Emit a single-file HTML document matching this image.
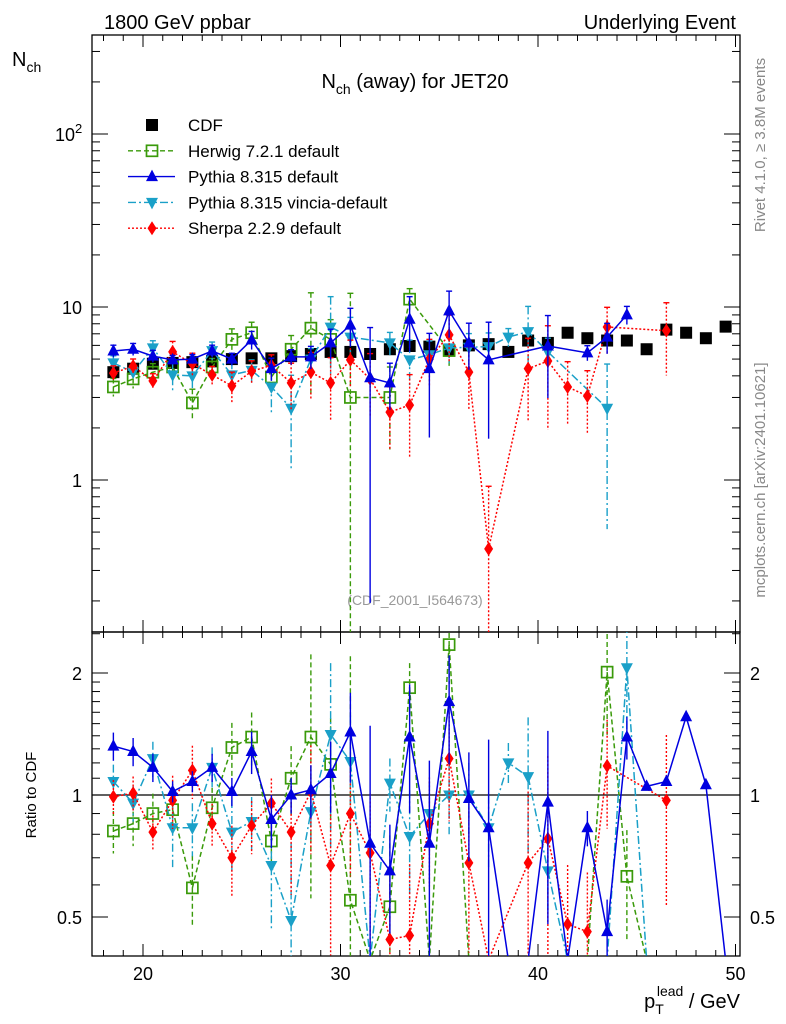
<!DOCTYPE html>
<html><head><meta charset="utf-8">
<style>
html,body{margin:0;padding:0;background:#fff;width:786px;height:1024px;overflow:hidden;}
svg{display:block;font-family:"Liberation Sans",Arial,sans-serif;}
</style></head>
<body>
<svg id="c" width="786" height="1024" viewBox="0 0 786 1024" xmlns="http://www.w3.org/2000/svg">
<defs>
<clipPath id="clipMain"><rect x="92" y="35" width="648" height="597"/></clipPath>
<clipPath id="clipRatio"><rect x="92" y="632" width="648" height="324"/></clipPath>
</defs>
<rect x="0" y="0" width="786" height="1024" fill="#fff"/>
<text x="104" y="29" font-size="20">1800 GeV ppbar</text>
<text x="736" y="29" font-size="20" text-anchor="end">Underlying Event</text>
<text x="415" y="88" font-size="20" text-anchor="middle">N<tspan font-size="14" dy="6">ch</tspan><tspan dy="-6"> (away) for JET20</tspan></text>
<text x="12" y="66" font-size="20">N<tspan font-size="14" dy="6">ch</tspan></text>
<text x="36" y="795" font-size="15" text-anchor="middle" transform="rotate(-90 36 795)">Ratio to CDF</text>
<text x="740" y="1008" font-size="20" text-anchor="end">p<tspan font-size="14" dy="6">T</tspan><tspan font-size="14" dx="-7" dy="-18">lead</tspan><tspan dy="12"> / GeV</tspan></text>
<text x="765" y="145" font-size="15" fill="#888" text-anchor="middle" transform="rotate(-90 765 145)">Rivet 4.1.0, ≥ 3.8M events</text>
<text x="765" y="480" font-size="15" fill="#888" text-anchor="middle" transform="rotate(-90 765 480)">mcplots.cern.ch [arXiv:2401.10621]</text>
<text x="415" y="605" font-size="14" fill="#999" text-anchor="middle">(CDF_2001_I564673)</text>
<g id="axes"></g>
<g id="mainMarks" clip-path="url(#clipMain)"></g>
<g id="ratioMarks" clip-path="url(#clipRatio)"></g>
<g id="legend"></g>
</svg>
<script>
const xBins = [18.5,19.5,20.5,21.5,22.5,23.5,24.5,25.5,26.5,27.5,28.5,29.5,30.5,31.5,32.5,33.5,34.5,35.5,36.5,37.5,38.5,39.5,40.5,41.5,42.5,43.5,44.5,45.5,46.5,47.5,48.5,49.5];
const cdfVals = [4.2,4.4,4.7,4.75,4.8,4.85,5.0,5.05,5.05,5.2,5.35,5.5,5.5,5.35,5.7,5.95,5.9,5.6,6.0,6.1,5.5,6.4,6.2,7.1,6.6,6.4,6.4,5.7,7.4,7.1,6.6,7.7];
const herwigVals = [3.45,3.84,4.2,4.5,2.79,4.5,6.5,7.1,3.94,5.7,7.55,6.5,3.0,null,3.0,11.1,null,5.6,null,null,null,null,null,null,null,null,null,null,null,null,null,null];
const herwigErr = [0.12,0.12,0.12,0.12,0.2,0.12,0.15,0.15,0.15,0.2,0.6,0.3,3.0,null,0.5,0.15,null,0.2,null,null,null,null,null,null,null,0.3,0.3,null,null,null,null,null];
const pythiaVals = [5.57,5.7,5.2,4.95,5.0,5.57,5.0,6.45,4.4,5.15,5.15,6.2,7.86,3.9,3.64,8.5,4.4,9.5,6.2,4.95,null,null,5.95,null,5.43,6.7,9.0,null,null,null,null,null];
const pythiaErr = [0.08,0.08,0.08,0.06,0.06,0.08,0.08,0.12,0.15,0.1,0.15,0.2,0.25,0.95,0.3,0.35,0.6,0.3,0.3,0.65,null,null,0.5,null,0.1,0.2,0.12,null,null,null,null,null];
const vinciaVals = [4.75,4.2,5.8,4.05,4.0,5.6,4.05,4.3,3.45,2.6,5.0,7.65,6.7,null,6.2,4.95,5.3,5.8,5.85,5.9,6.7,7.2,5.5,null,null,2.6,null,null,null,null,null,null];
const vinciaErr = [0.1,0.1,0.1,0.2,0.15,0.12,0.2,0.15,0.3,0.55,0.15,0.5,0.3,null,0.15,0.3,0.2,0.2,0.2,0.2,0.12,0.4,0.2,null,null,0.8,0.3,null,null,null,null,null];
const sherpaVals = [4.15,4.55,3.74,5.5,4.7,4.05,3.5,4.25,4.6,3.64,4.2,3.64,4.95,3.84,2.47,2.71,5.0,6.9,4.2,0.4,null,4.4,4.87,3.45,3.06,7.66,null,null,7.3,null,null,null];
const sherpaErr = [0.1,0.1,0.1,0.15,0.15,0.12,0.2,0.15,0.15,0.3,0.3,0.4,0.3,0.4,0.4,0.5,0.3,0.3,0.4,1.3,null,0.5,0.6,0.4,0.4,0.3,null,null,0.45,null,null,null];
const herwigRatio = [0.815,0.85,0.90,0.92,0.59,0.93,1.31,1.39,0.77,1.10,1.39,1.19,0.55,0.2,0.53,1.84,0.2,2.35,0.2,null,null,null,null,null,0.2,2.01,0.63,0.2,null,null,null,null];
const pythiaRatio = [1.32,1.28,1.17,1.02,1.08,1.17,1.02,1.28,0.87,1.0,1.03,1.13,1.43,0.76,0.65,1.39,0.76,1.70,0.98,0.83,0.2,0.2,0.96,0.2,0.83,0.46,1.39,1.05,1.08,1.56,1.06,0.2];
const vinciaRatio = [1.08,0.955,1.23,0.83,0.83,1.17,0.81,0.86,0.67,0.49,0.91,1.41,1.21,0.2,1.07,0.79,0.9,1.0,1.0,0.83,1.2,1.11,0.65,0.2,null,0.3,2.06,0.2,null,null,null,null];
const sherpaRatio = [0.99,1.01,0.81,0.97,1.15,0.85,0.70,0.84,0.955,0.81,1.02,0.67,0.90,0.72,0.44,0.45,0.85,1.23,0.68,0.2,null,0.68,0.78,0.48,0.46,1.18,null,null,0.97,null,null,null];
const xTicks = [20,30,40,50];
const ratioTicks = [0.5,1,2];

const NS = "http://www.w3.org/2000/svg";
function X(v){ return 143 + (v-20)*19.75; }
function Ym(v){ return Math.min(Math.max(480 - Math.log10(v)*173, 28), 640); }
function Yr(v){ return Math.min(Math.max(795 - Math.log2(v)*122, 625), 960); }
function inRatio(v){ return v>=0.4 && v<=2.52; }
function mk(tag, attrs, parent){
  const e = document.createElementNS(NS, tag);
  for (const k in attrs) e.setAttribute(k, attrs[k]);
  parent.appendChild(e);
  return e;
}
const axes = document.getElementById('axes');
const mainG = document.getElementById('mainMarks');
const ratioG = document.getElementById('ratioMarks');
const legG = document.getElementById('legend');

let f1 = mk('rect',{x:92,y:35,width:648,height:597,fill:'none',stroke:'#000','stroke-width':1.3},axes);


let f2 = mk('rect',{x:92,y:632,width:648,height:324,fill:'none',stroke:'#000','stroke-width':1.3},axes);


let one = mk('line',{x1:92,x2:740,y1:Yr(1),y2:Yr(1),stroke:'#000','stroke-width':1.2},axes);



for (let v=18; v<=50; v++){
  const major = (v%10===0);
  const L = major?12:6;
  const x = X(v);
  [[35,1],[632,-1],[632,1],[956,-1]].forEach(([y,d])=>{
    const t = mk('line',{x1:x,x2:x,y1:y,y2:y+d*L,stroke:'#000','stroke-width':1},axes);
    
    
  });
}
xTicks.forEach(v=>{
  const t = mk('text',{x:X(v),y:980,'font-size':18,'text-anchor':'middle'},axes);
  t.textContent = String(v);
  
  
});
for (let d=-1; d<=2; d++){
  for (let m=1; m<=9; m++){
    const v = m*Math.pow(10,d);
    const y = 480 - Math.log10(v)*173;
    if (y<35 || y>632) continue;
    const L = m===1?16:8;
    const a = mk('line',{x1:92,x2:92+L,y1:y,y2:y,stroke:'#000','stroke-width':1},axes);
    
    
    const b = mk('line',{x1:740,x2:740-L,y1:y,y2:y,stroke:'#000','stroke-width':1},axes);
    
    
  }
}
[[1,'1'],[10,'10']].forEach(([v,s])=>{
  const t = mk('text',{x:82,y:Ym(v)+7,'font-size':18,'text-anchor':'end'},axes);
  t.textContent = s;
  
  
});
const t100 = mk('text',{x:55,y:Ym(100)+7,'font-size':18},axes);


t100.textContent = '10';
const sup = mk('tspan',{'font-size':13,dy:-8},t100);
sup.textContent = '2';

[0.4,0.5,0.6,0.7,0.8,0.9,1,1.1,1.2,1.3,1.4,1.5,1.6,1.7,1.8,1.9,2,2.5].forEach(v=>{
  const y = 795 - Math.log2(v)*122;
  if (y<632||y>956) return;
  const L = (v===0.5||v===1||v===2)?16:8;
  const a = mk('line',{x1:92,x2:92+L,y1:y,y2:y,stroke:'#000','stroke-width':1},axes);
  
  
  const b = mk('line',{x1:740,x2:740-L,y1:y,y2:y,stroke:'#000','stroke-width':1},axes);
  
  
});
ratioTicks.forEach(v=>{
  const t = mk('text',{x:82,y:Yr(v)+7,'font-size':18,'text-anchor':'end'},axes);
  t.textContent = String(v);
  
  
  const t2 = mk('text',{x:750,y:Yr(v)+7,'font-size':18},axes);
  t2.textContent = String(v);
  
  
});

function marker(type, cx, cy, color, parent){
  let e;
  if (type==='sq') e = mk('rect',{x:cx-6,y:cy-6,width:12,height:12,fill:'#000'},parent);
  else if (type==='osq') e = mk('rect',{x:cx-5.5,y:cy-5.5,width:11,height:11,fill:'none',stroke:color,'stroke-width':1.7},parent);
  else if (type==='up') e = mk('polygon',{points:`${cx},${cy-7} ${cx-6},${cy+4.5} ${cx+6},${cy+4.5}`,fill:color},parent);
  else if (type==='dn') e = mk('polygon',{points:`${cx},${cy+7} ${cx-6},${cy-4.5} ${cx+6},${cy-4.5}`,fill:color},parent);
  else e = mk('polygon',{points:`${cx},${cy-7} ${cx-4.5},${cy} ${cx},${cy+7} ${cx+4.5},${cy}`,fill:color},parent);
  return e;
}
const series = [
  {name:'herwig',vals:herwigVals,err:herwigErr,ratio:herwigRatio,color:'#3a9a0a',dash:'5,3',m:'osq'},
  {name:'vincia',vals:vinciaVals,err:vinciaErr,ratio:vinciaRatio,color:'#1aa0c8',dash:'8,3,2,3',m:'dn'},
  {name:'sherpa',vals:sherpaVals,err:sherpaErr,ratio:sherpaRatio,color:'#ff0000',dash:'2,2',m:'dia'},
  {name:'pythia',vals:pythiaVals,err:pythiaErr,ratio:pythiaRatio,color:'#0000e0',dash:'',m:'up'}
];
xBins.forEach((xv,i)=>{
  const p = marker('sq', X(xv), Ym(cdfVals[i]), '#000', mainG);
  
  
});
series.forEach(s=>{
  let pts=[];
  xBins.forEach((xv,i)=>{ if (s.vals[i]!=null) pts.push([X(xv),Ym(s.vals[i]),i]); });
  const line = mk('polyline',{points:pts.map(p=>p[0]+','+p[1]).join(' '),fill:'none',stroke:s.color,'stroke-width':1.5,'stroke-dasharray':s.dash},mainG);
  
  
  pts.forEach(p=>{
    const i=p[2], v=s.vals[i], e=s.err[i]||0;
    const lo = Math.max(v*(1-e), 0.05), hi = v*(1+e);
    const eb = mk('line',{x1:p[0],x2:p[0],y1:Ym(hi),y2:Ym(lo),stroke:s.color,'stroke-width':1.4,'stroke-dasharray':s.dash},mainG);
    
    
    const cap = mk('line',{x1:p[0]-3,x2:p[0]+3,y1:Ym(hi),y2:Ym(hi),stroke:s.color,'stroke-width':1.4},mainG);
    
    
    const mm = marker(s.m,p[0],p[1],s.color,mainG);
    
    
  });
  let rp=[];
  xBins.forEach((xv,i)=>{ if (s.ratio[i]!=null) rp.push([X(xv),Yr(s.ratio[i]),i]); });
  const rl = mk('polyline',{points:rp.map(p=>p[0]+','+p[1]).join(' '),fill:'none',stroke:s.color,'stroke-width':1.5,'stroke-dasharray':s.dash},ratioG);
  
  
  rp.forEach(p=>{
    const i=p[2], r=s.ratio[i], e=(s.err[i]!=null?s.err[i]:0);
    if (!inRatio(r)) return;
    const hi=r*(1+e), lo=Math.max(r*(1-e),0.05);
    const eb = mk('line',{x1:p[0],x2:p[0],y1:Yr(hi),y2:Yr(lo),stroke:s.color,'stroke-width':1.4,'stroke-dasharray':s.dash},ratioG);
    
    
    const mm = marker(s.m,p[0],p[1],s.color,ratioG);
    
    
  });
});
const legItems = [
  {label:'CDF',color:'#000',dash:null,m:'sq'},
  {label:'Herwig 7.2.1 default',color:'#3a9a0a',dash:'5,3',m:'osq'},
  {label:'Pythia 8.315 default',color:'#0000e0',dash:'',m:'up'},
  {label:'Pythia 8.315 vincia-default',color:'#1aa0c8',dash:'8,3,2,3',m:'dn'},
  {label:'Sherpa 2.2.9 default',color:'#ff0000',dash:'2,2',m:'dia'}
];
legItems.forEach((it,k)=>{
  const y = 125 + k*25.8;
  if (it.dash!==null){
    const l = mk('line',{x1:128,x2:175,y1:y,y2:y,stroke:it.color,'stroke-width':1.4,'stroke-dasharray':it.dash},legG);
    
    
  }
  const mm = marker(it.m,152,y,it.color,legG);
  
  
  const t = mk('text',{x:188,y:y+6,'font-size':17},legG);
  t.textContent = it.label;
  
  
});
</script>
</body></html>
